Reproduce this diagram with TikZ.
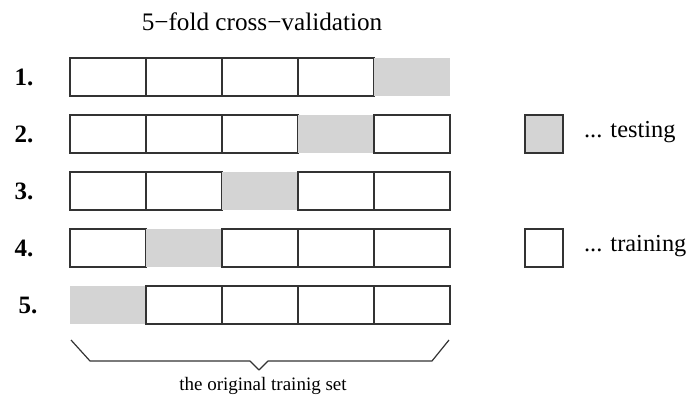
\documentclass[tikz,border=0pt]{standalone}
\usepackage{fontspec}
\setmainfont{Liberation Serif}
\usetikzlibrary{positioning}

\definecolor{testgray}{HTML}{D4D4D4}
\definecolor{edge}{HTML}{333333}

\begin{document}
\begin{tikzpicture}[
      x=0.5pt, y=-0.5pt,
      cell/.style={rectangle, draw=edge, line width=0.6pt, fill=white, minimum width=38pt, minimum height=19pt, inner sep=0pt, outer sep=0pt},
      testcell/.style={cell, draw=none, fill=testgray},
      rowlabel/.style={font=\fontsize{12.5}{14}\selectfont\bfseries},
      legend/.style={font=\fontsize{12.2}{14}\selectfont, anchor=west}
    ]
    \useasboundingbox (0,0) rectangle (687,398);
    \node[font=\fontsize{12.6}{15}\selectfont] (title) at (262,22) {5−fold cross−validation};
    % one row per fold, the grey cell moves to the left
    \foreach \r/\t in {1/5,2/4,3/3,4/2,5/1} {
        \pgfmathsetmacro{\yy}{20+57*\r}
        \foreach \c in {1,...,5} {
            \ifnum\c=\t
                \node[testcell] (c\r-\c) at (32+76*\c, \yy) {};
            \else
                \node[cell] (c\r-\c) at (32+76*\c, \yy) {};
            \fi
        }
    }
    \node[rowlabel] (n1) at (24,77) {1.};
    \node[rowlabel] (n2) at (24,134) {2.};
    \node[rowlabel] (n3) at (24,191) {3.};
    \node[rowlabel] (n4) at (24,248) {4.};
    \node[rowlabel] (n5) at (28,305) {5.};
    % legend
    \node[cell, fill=testgray, minimum width=19pt] (ltest) at (544,134) {};
    \node[legend] (ttest) at (577,132) {... testing};
    \node[cell, minimum width=19pt] (ltrain) at (544,248) {};
    \node[legend] (ttrain) at (577,246) {... training};
    % brace under the last row
    \draw[edge, line width=0.6pt, line join=round]
      (71,340) -- (90,361) -- (250,361) -- (259,370) -- (268,361) -- (432,361) -- (449,340);
    \node[font=\fontsize{9.5}{11}\selectfont] (set) at (263,386) {the original trainig set};
  \end{tikzpicture}
\end{document}
